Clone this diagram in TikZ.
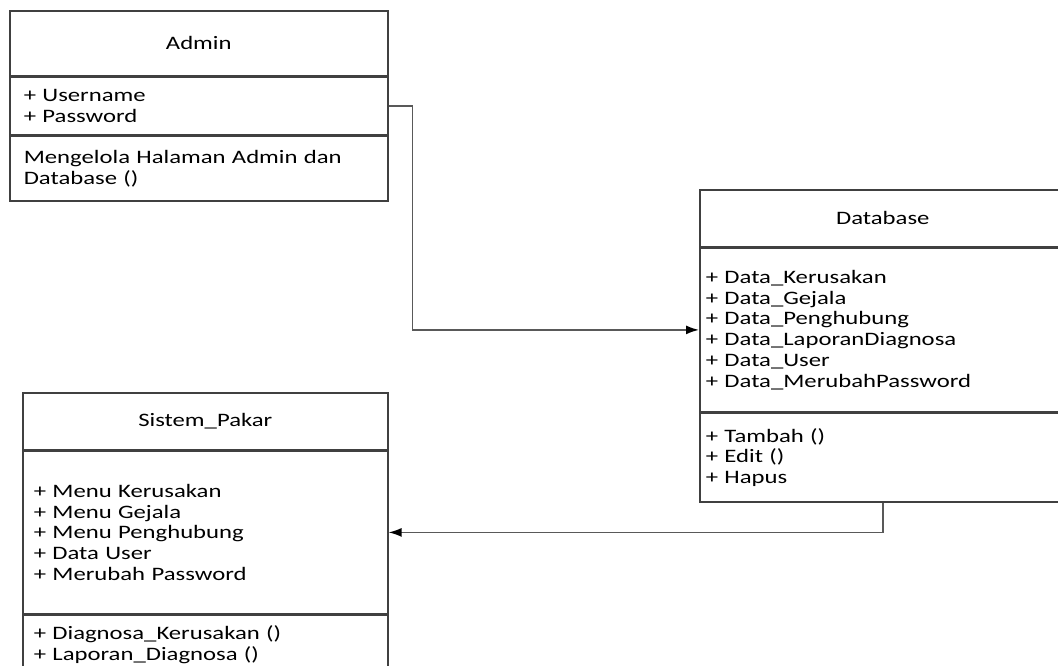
\documentclass[tikz,border=0pt]{standalone}
\usepackage{fontspec}
\setmainfont[FakeStretch=1.3]{Carlito}
\usetikzlibrary{arrows.meta}
\begin{document}
\begin{tikzpicture}[x=1pt, y=-1pt, font=\fontsize{19}{20.8}\selectfont,
    head/.style={draw=black!75, line width=1.6pt, anchor=north west, align=center, inner sep=0pt},
    body/.style={draw=black!75, line width=1.6pt, anchor=north west, align=left, inner ysep=0pt},
    link/.style={draw=black!65, line width=1.6pt, -{Latex[length=13pt,width=9pt,color=black]}}]
            \useasboundingbox (0,0) rectangle (1058,665);
            % Admin
            \node[head, minimum width=378pt, minimum height=65pt] (admin) at (9,10) {Admin};
            \node[body, minimum width=378pt, minimum height=57pt, inner xsep=14pt, text width=350pt] (adminattr) at (admin.south west) {+ Username\\+ Password};
            \node[body, minimum width=378pt, minimum height=65pt, inner xsep=14pt, text width=350pt] (adminop) at (adminattr.south west) {Mengelola Halaman Admin dan\\Database ()};
            % Database
            \node[head, minimum width=366pt, minimum height=57pt] (db) at (699,189) {Database};
            \node[body, minimum width=366pt, minimum height=163pt, inner xsep=6pt, text width=354pt] (dbattr) at (db.south west) {+ Data\_Kerusakan\\+ Data\_Gejala\\+ Data\_Penghubung\\+ Data\_LaporanDiagnosa\\+ Data\_User\\+ Data\_MerubahPassword};
            \node[body, minimum width=366pt, minimum height=89pt, inner xsep=6pt, text width=354pt] (dbop) at (dbattr.south west) {+ Tambah ()\\+ Edit ()\\+ Hapus};
            % Sistem_Pakar
            \node[head, minimum width=365pt, minimum height=57pt] (pakar) at (22,392) {Sistem\_Pakar};
            \node[body, minimum width=365pt, minimum height=162pt, inner xsep=11pt, text width=343pt] (pakarattr) at (pakar.south west) {+ Menu Kerusakan\\+ Menu Gejala\\+ Menu Penghubung\\+ Data User\\+ Merubah Password};
            \node[body, minimum width=365pt, minimum height=60pt, inner xsep=11pt, text width=343pt] (pakarop) at (pakarattr.south west) {+ Diagnosa\_Kerusakan ()\\+ Laporan\_Diagnosa ()};
            % connectors
            \draw[link] (adminattr.east) -- ++(24,0) |- (dbattr.west);
            \draw[link] (dbop.south) |- (pakarattr.east);
        \end{tikzpicture}
\end{document}
